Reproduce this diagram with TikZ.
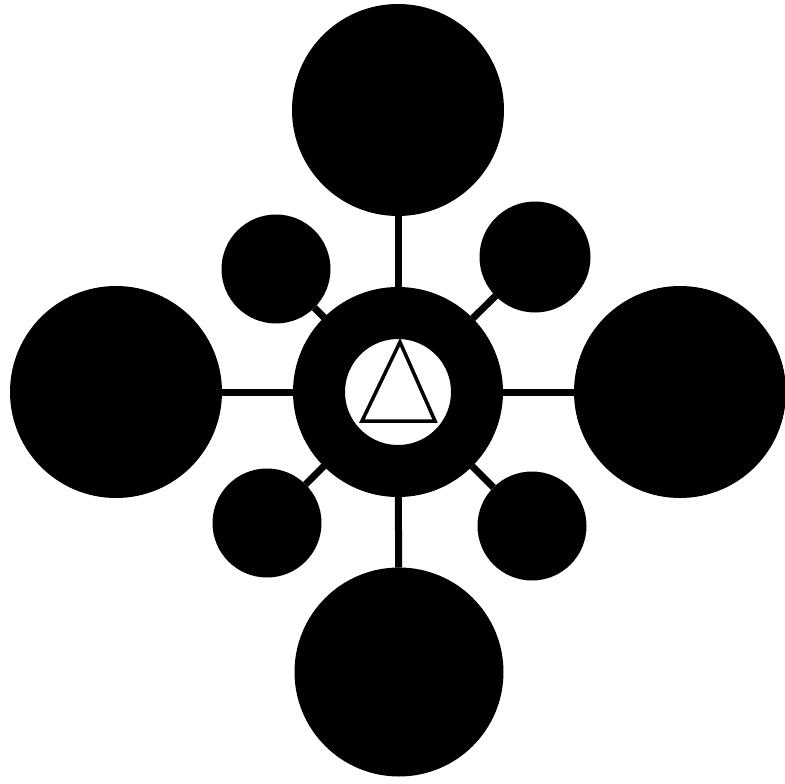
\documentclass[tikz,border=0pt]{standalone}
\begin{document}
\begin{tikzpicture}[x=1pt,y=-1pt,
  big/.style={circle,fill=black,inner sep=0pt,outer sep=0pt,minimum size=212pt},
  small/.style={circle,fill=black,inner sep=0pt,outer sep=0pt,minimum size=109pt},
  link/.style={line width=7pt},
  hub/.style={circle,draw=black,fill=white,line width=52pt,inner sep=0pt,outer sep=26pt,minimum size=158pt}]
\useasboundingbox (0,0) rectangle (785,784);
\node[hub] (ring) at (398,392) {};
\node[big] (top) at (398,110) {};
\node[big,minimum size=209pt] (bottom) at (399,672) {};
\node[big] (left) at (116,392) {};
\node[big] (right) at (680,392) {};
\node[small] (tl) at (276,269) {};
\node[small,minimum size=111pt] (tr) at (535,257) {};
\node[small] (bl) at (267,523) {};
\node[small] (br) at (532,526) {};
\foreach \n in {top,bottom,left,right,tl,tr,bl,br}
  \draw[link] (ring) -- (\n);
\coordinate (apex) at (400,342);
\coordinate (bl1) at (362,421);
\coordinate (br1) at (435,421);
\draw[line width=3.5pt,line join=miter] (apex) -- (bl1) -- (br1) -- cycle;
\end{tikzpicture}
\end{document}
